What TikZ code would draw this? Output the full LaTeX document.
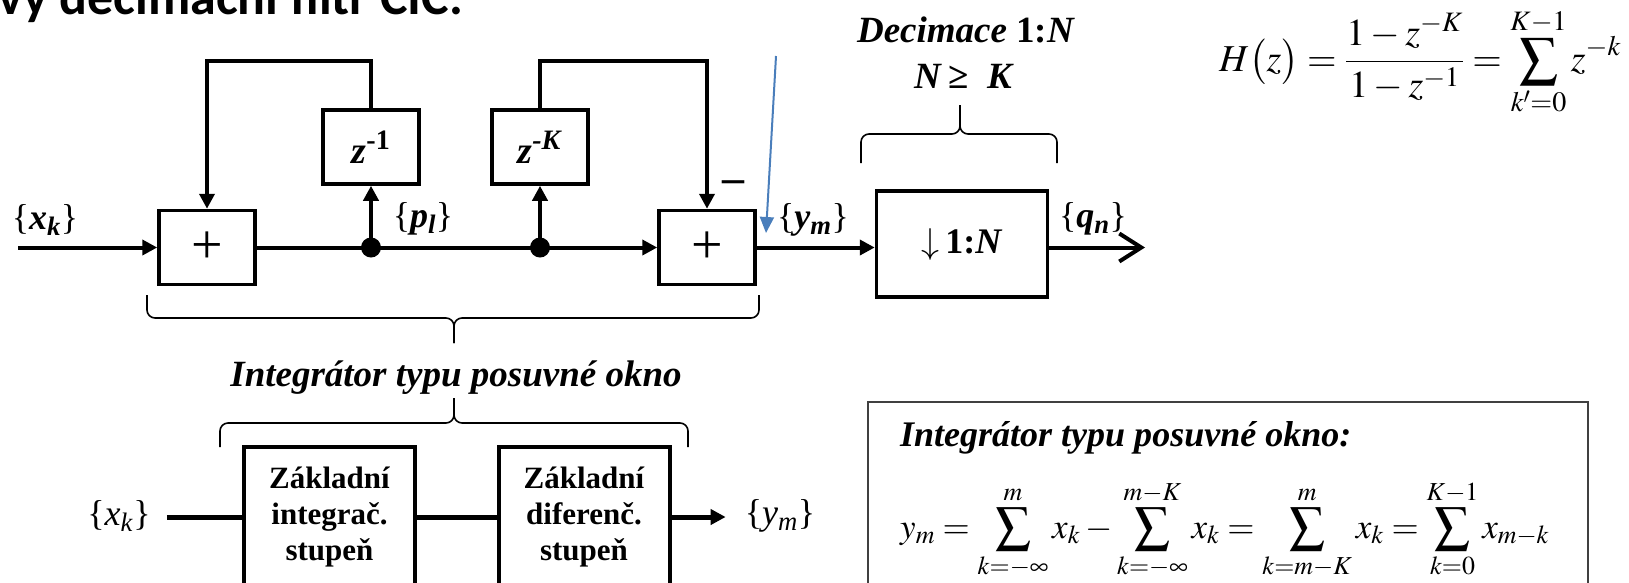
\documentclass[tikz,border=0pt]{standalone}
\usepackage{mathptmx}
\usepackage{fontspec}
\setmainfont{Liberation Serif}
\newfontfamily\nadpisfont{Carlito}
\usetikzlibrary{arrows.meta,positioning}

\definecolor{modra}{RGB}{74,126,187}

\tikzset{
  blok/.style={draw, line width=3.5pt, minimum width=96pt, minimum height=74pt, inner sep=0pt},
  velkyblok/.style={draw, line width=4pt, minimum width=171pt, minimum height=140pt, inner sep=0pt,
    align=center, font=\bfseries\fontsize{31}{36}\selectfont},
  spoj/.style={line width=4pt},
  sipka/.style={spoj, -{Triangle[length=15pt,width=15pt]}},
  uzel/.style={circle, fill, inner sep=0pt, minimum size=20pt},
  popis/.style={inner sep=0pt, font=\fontsize{36}{40}\selectfont},
  zavorka/.style={line width=1.6pt, rounded corners=8pt},
}

\newcommand{\signal}[2]{\{\textbf{\textit{#1}}\textsubscript{\textbf{\textit{#2}}}\}}

\begin{document}
\begin{tikzpicture}[x=1pt,y=-1pt]
\useasboundingbox (0,0) rectangle (1629,582);

% titulek (oriznuty)
\node[anchor=base west, inner sep=0pt, font=\nadpisfont\bfseries\fontsize{52}{60}\selectfont] (nadpis) at (-2,14) {vy decimační filtr CIC.};

% horni schema
\coordinate (vstup) at (18,247.5);
\coordinate (horni) at (0,61);
\node[popis] (xk) at (45,220) {\signal{x}{k}};
\node[blok, font=\fontsize{56}{60}\selectfont] (add1) at (207,247.5) {+};
\node[blok, font=\fontsize{38}{42}\selectfont] (zone) at (371,147) {\textbf{\textit{z}}\textsuperscript{\textbf{-1}}};
\node[blok, font=\fontsize{38}{42}\selectfont] (zK) at (540,147) {\textbf{\textit{z}}\textsuperscript{\textbf{\textit{-K}}}};
\node[blok, font=\fontsize{56}{60}\selectfont] (add2) at (707,247.5) {+};
\node[blok, minimum width=171pt, minimum height=106pt, font=\bfseries\fontsize{36}{40}\selectfont] (dec) at (962,244) {$\downarrow$\,1:\textit{N}};
\node[uzel] (j1) at (add1 -| zone) {};
\node[uzel] (j2) at (add1 -| zK) {};
\node[popis] (pl) at (423,219) {\signal{p}{l}};
\node[popis] (ym) at (813,220) {\signal{y}{m}};
\node[popis] (qn) at (1093,219) {\signal{q}{n}};
\node[inner sep=0pt, font=\bfseries\fontsize{44}{48}\selectfont] (minus) at (733,187) {–};
\coordinate (vystup) at (1145,247.5);

\draw[sipka] (vstup) -- (add1.west);
\draw[spoj] (add1.east) -- (j1.center) -- (j2.center);
\draw[sipka] (j2.center) -- (add2.west);
\draw[sipka] (j1.center) -- (zone.south);
\draw[sipka] (j2.center) -- (zK.south);
\draw[sipka] (zone.north) -- (zone.north |- horni) -| (add1.north);
\draw[sipka] (zK.north) -- (zK.north |- horni) -| (add2.north);
\draw[sipka] (add2.east) -- (add2.east -| dec.west);
\draw[spoj, -{Straight Barb[length=22pt,width=28pt]}] (dec.east |- vystup) -- (vystup);

% modra sipka
\coordinate (modry) at (776,56);
\coordinate (modryhrot) at (766,233);
\draw[line width=2pt, modra, -{Triangle[length=16pt,width=14pt]}] (modry) -- (modryhrot);

% decimace
\node[font=\bfseries\fontsize{37}{42}\selectfont] (decim) at (966,30) {\textit{Decimace} 1:\textit{N}};
\node[font=\bfseries\fontsize{37}{42}\selectfont] (nk) at (964,76) {\textit{N}\,≥\ \ \textit{K}};
\draw[zavorka] (861,163) -- (861,134) -- (960,134) -- (960,105);
\draw[zavorka] (1057,163) -- (1057,134) -- (960,134) -- (960,105);

% prenosova funkce
\node[font=\fontsize{38}{46}\selectfont] (hz) at (1420,62)
  {$\displaystyle H\bigl(z\bigr)=\frac{1-z^{-K}}{1-z^{-1}}=\sum_{k'=0}^{K-1}z^{-k}$};

% zavorka pod integratorem
\draw[zavorka] (147,295) -- (147,318) -- (454,318) -- (454,343);
\draw[zavorka] (759,295) -- (759,318) -- (454,318) -- (454,343);
\node[font=\bfseries\itshape\fontsize{37}{40}\selectfont] (integ) at (456,378) {Integrátor typu posuvné okno};
\draw[zavorka] (220,447) -- (220,423) -- (454,423) -- (454,398);
\draw[zavorka] (688,447) -- (688,423) -- (454,423) -- (454,398);

% dolni schema
\node[popis] (xk2) at (119,516) {\{\textit{x}\textsubscript{\textit{k}}\}};
\node[velkyblok] (zint) at (329.5,517) {Základní\\integrač.\\stupeň};
\node[velkyblok] (zdif) at (584,517) {Základní\\diferenč.\\stupeň};
\node[popis] (ym2) at (780,516) {\{\textit{y}\textsubscript{\textit{m}}\}};
\draw[spoj, line width=5pt, shorten <=16pt] (xk2.east |- zint) -- (zint);
\draw[spoj, line width=5pt] (zint) -- (zdif);
\draw[sipka, line width=5pt, shorten >=19pt] (zdif) -- (ym2.west |- zdif);

% ramecek s rovnici
\draw[line width=1.2pt, black!75] (868,402) rectangle (1588,600);
\node[anchor=base west, inner sep=0pt, font=\bfseries\itshape\fontsize{36}{40}\selectfont] (rtitul) at (900,446) {Integrátor typu posuvné okno:};
\node[anchor=west, inner sep=0pt, font=\fontsize{35}{40}\selectfont] (rovnice) at (900,530)
  {$\displaystyle y_m = \sum_{k=-\infty}^{m} x_k - \sum_{k=-\infty}^{m-K} x_k = \sum_{k=m-K}^{m} x_k = \sum_{k=0}^{K-1} x_{m-k}$};
\end{tikzpicture}
\end{document}
